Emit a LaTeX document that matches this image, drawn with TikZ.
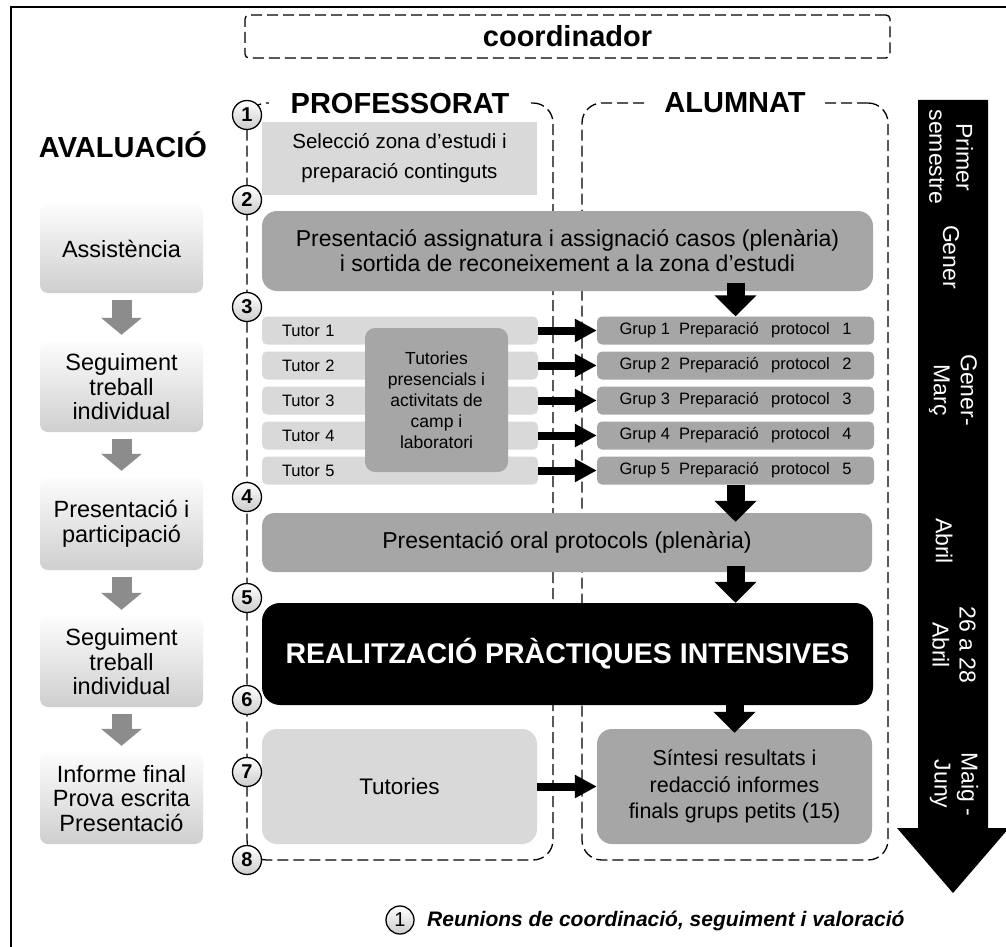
\documentclass[tikz,border=0pt]{standalone}
\usepackage{fontspec}
\setmainfont{Liberation Sans}
\usetikzlibrary{arrows.meta,calc}
\definecolor{lgrey}{HTML}{D9D9D9}
\definecolor{dgrey}{HTML}{A6A6A6}
\definecolor{garrow}{HTML}{8C8C8C}
\newcommand\fsz[2]{\fontsize{#1pt}{#2pt}\selectfont}
\begin{document}
\begin{tikzpicture}[x=1pt,y=-1pt,
  frame/.style={draw, dash pattern=on 11pt off 5pt, line width=1.3pt},
  lbox/.style={rounded corners=8pt, top color=gray!2, bottom color=gray!38, minimum width=163pt, align=center, inner sep=0pt, font=\fsz{23.5}{24.5}},
  num/.style={circle, draw, line width=1.3pt, minimum size=29pt, inner sep=0pt, top color=white, bottom color=gray!40, font=\bfseries\fsz{20}{20}},
  lgbox/.style={fill=lgrey, inner sep=0pt, align=center},
  dgbox/.style={fill=dgrey, inner sep=0pt, align=center},
  row/.style={minimum width=276pt, minimum height=28pt, rounded corners=5pt},
  bigarr/.style={line width=18pt, -{Triangle[width=41pt,length=21pt]}},
  harr/.style={line width=8pt, -{Triangle[width=22pt,length=22pt]}},
  garr/.style={line width=20pt, draw=garrow, -{Triangle[width=40pt,length=17pt]}},
  tl/.style={text=white, rotate=-90, align=center, inner sep=0pt, font=\fsz{23}{27}},
  title/.style={fill=white, font=\bfseries\fsz{29}{29}, inner sep=2pt}
]
\useasboundingbox (0,0) rectangle (1006,947);
\fill[white] (0,0) rectangle (1006,947);
\draw[line width=2pt] (11,950) -- (11,7) -- (1010,7);

% coordinator
\node[frame, rounded corners=4pt, minimum width=645pt, minimum height=43pt, font=\bfseries\fsz{29}{29}] (coord) at (567.5,36.5) {coordinador};

% frames
\node[frame, rounded corners=20pt, minimum width=306pt, minimum height=757pt, inner sep=0pt] (prof) at (400,481.5) {};
\node[frame, rounded corners=20pt, minimum width=306pt, minimum height=757pt, inner sep=0pt] (alum) at (735,481.5) {};
\node[title, minimum width=262pt] (proft) at (400,104) {PROFESSORAT};
\node[title, minimum width=176pt] (alumt) at (735,103) {ALUMNAT};

% left column
\node[font=\bfseries\fsz{29}{29}] (aval) at (123,145) {AVALUACIÓ};
\node[lbox, minimum height=89pt] (a1) at (121.5,248.5) {Assistència};
\node[lbox, minimum height=90pt] (a2) at (121.5,387) {Seguiment\\treball\\individual};
\node[lbox, minimum height=92pt] (a3) at (121.5,524) {Presentació i\\participació};
\node[lbox, minimum height=90pt] (a4) at (121.5,662) {Seguiment\\treball\\individual};
\node[lbox, minimum height=91pt] (a5) at (121.5,798.5) {Informe final\\Prova escrita\\Presentació};
\draw[garr] ($(a1.south)+(0,7)$) -- ($(a2.north)+(0,-7)$);
\draw[garr] ($(a2.south)+(0,7)$) -- ($(a3.north)+(0,-7)$);
\draw[garr] ($(a3.south)+(0,7)$) -- ($(a4.north)+(0,-7)$);
\draw[garr] ($(a4.south)+(0,7)$) -- ($(a5.north)+(0,-7)$);

% middle boxes
\node[lgbox, minimum width=275pt, minimum height=73pt, font=\fsz{20.5}{30}] (sel) at (399.5,158.5) {Selecció zona d’estudi i\\preparació continguts};
\node[dgbox, rounded corners=15pt, minimum width=611pt, minimum height=80pt, font=\fsz{23}{25}] (pres) at (567.5,251) {Presentació assignatura i assignació casos (plenària)\\i sortida de reconeixement a la zona d’estudi};

\foreach \i/\y in {1/330.5,2/365.5,3/400.5,4/435.5,5/470.5}{
  \node[lgbox, row, text width=236pt, align=left, font=\fsz{16.5}{16.5}] (t\i) at (400,\y) {Tutor \i};
  \node[dgbox, row, minimum width=277pt, font=\fsz{16.5}{16.5}] (g\i) at (735.5,\y) {Grup \i\hspace{0.55em}Preparació\hspace{0.75em}protocol\hspace{0.75em}\i};
}
\node[dgbox, rounded corners=10pt, minimum width=143pt, minimum height=144pt, font=\fsz{17.5}{21}] (tut) at (436.5,400) {Tutories\\presencials i\\activitats de\\camp i\\laboratori};

\node[dgbox, rounded corners=12pt, minimum width=610pt, minimum height=59pt, font=\fsz{23}{23}] (oral) at (567,542.5) {Presentació oral protocols (plenària)};
\node[fill=black, text=white, rounded corners=18pt, minimum width=611pt, minimum height=102pt, inner sep=0pt, font=\bfseries\fsz{28.5}{28.5}] (real) at (567.5,654) {REALITZACIÓ PRÀCTIQUES INTENSIVES};
\node[lgbox, rounded corners=15pt, minimum width=275pt, minimum height=115pt, font=\fsz{22.5}{22.5}] (tuts) at (399.5,786.5) {Tutories};
\node[dgbox, rounded corners=15pt, minimum width=275pt, minimum height=115pt, font=\fsz{21.5}{26.5}] (sint) at (734.5,786.5) {Síntesi resultats i\\redacció informes\\finals grups petits (15)};

% arrows
\draw[bigarr] ($(pres.south -| g1.north)+(0,-8)$) -- (g1.north);
\draw[bigarr] (g5.south) -- ($(oral.north -| g5.south)+(0,9)$);
\draw[bigarr] ($(oral.south -| g5.south)+(0,-6)$) -- (real.north -| g5.south);
\draw[bigarr] ($(real.south -| sint.north)+(0,-4)$) -- ($(sint.north)+(0,4)$);
\foreach \i in {1,...,5}{\draw[harr] (t\i.east) -- (g\i.west);}
\draw[harr] (tuts.east) -- (sint.west);

% circles
\foreach \n/\y in {1/115,2/200,3/307,4/497,5/598,6/700,7/772,8/860}{
  \node[num] (c\n) at (247,\y) {\n};
}

% timeline
\fill[black] (918,100) -- (988,100) -- (988,828) -- (1009,828) -- (953,893) -- (897,828) -- (918,828) -- cycle;
\node[tl] (tl1) at (951,157) {Primer\\semestre};
\node[tl] (tl2) at (951,257) {Gener};
\node[tl] (tl3) at (953,390) {Gener-\\Març};
\node[tl] (tl4) at (944,541) {Abril};
\node[tl] (tl5) at (954,645) {26 a 28\\Abril};
\node[tl] (tl6) at (954,784) {Maig -\\Juny};

% footnote
\node[num, minimum size=28pt, font=\fsz{20}{20}] (fn) at (400,920) {1};
\node[anchor=west, inner sep=0pt, font=\bfseries\itshape\fsz{21}{21}] (fntext) at (427,921) {Reunions de coordinació, seguiment i valoració};
\end{tikzpicture}
\end{document}
